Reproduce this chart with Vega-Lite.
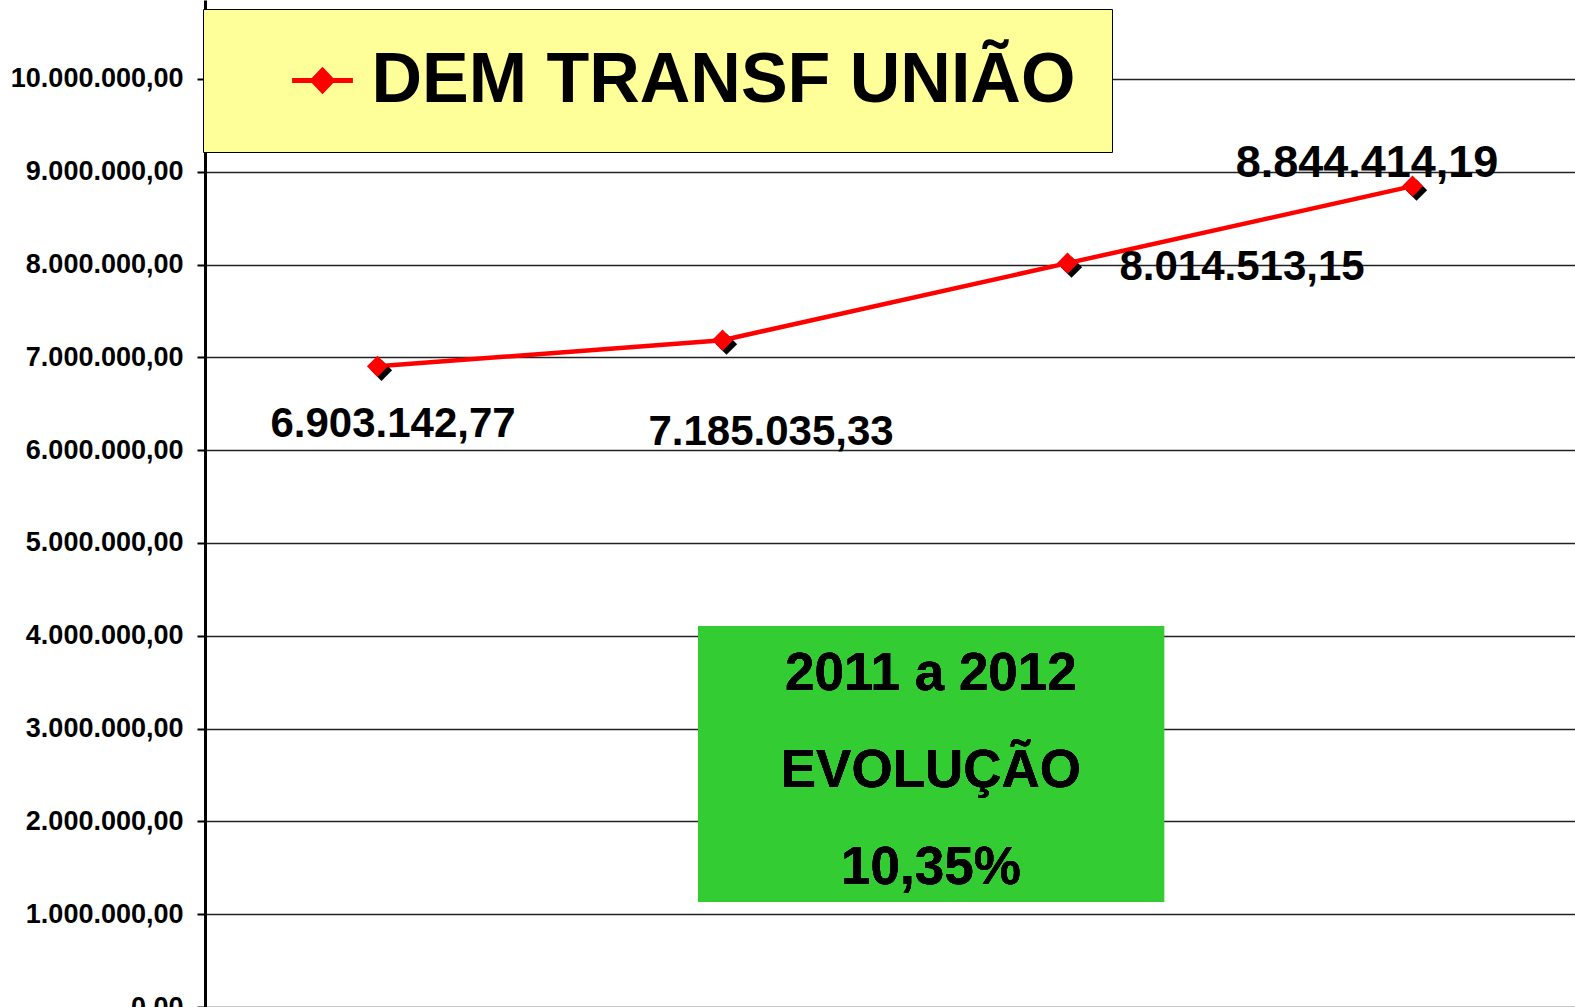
{
  "$schema": "https://vega.github.io/schema/vega-lite/v6.json",
  "autosize": {"type": "none"},
  "padding": {"left": 205, "top": 0, "right": 0, "bottom": 0},
  "width": 1370,
  "height": 1007,
  "background": "white",
  "data": {
    "values": [
      {"ano": 2009, "valor": 6903142.77, "serie": "DEM TRANSF UNIÃO"},
      {"ano": 2010, "valor": 7185035.33, "serie": "DEM TRANSF UNIÃO"},
      {"ano": 2011, "valor": 8014513.15, "serie": "DEM TRANSF UNIÃO"},
      {"ano": 2012, "valor": 8844414.19, "serie": "DEM TRANSF UNIÃO"}
    ]
  },
  "encoding": {
    "x": {"field": "ano", "type": "quantitative", "scale": {"domain": [2008.5, 2012.471], "nice": false, "zero": false}, "axis": null},
    "y": {
      "field": "valor", "type": "quantitative",
      "scale": {"domain": [0, 10850000], "nice": false, "zero": true},
      "axis": {
        "values": [0, 1000000, 2000000, 3000000, 4000000, 5000000, 6000000, 7000000, 8000000, 9000000, 10000000],
        "format": ",.2f",
        "title": null,
        "labelFont": "Liberation Sans",
        "labelFontWeight": "bold",
        "labelFontSize": 27,
        "labelColor": "black",
        "labelPadding": 14,
        "tickSize": 8,
        "tickColor": "black",
        "tickWidth": 2,
        "domainColor": "black",
        "domainWidth": 3,
        "grid": true,
        "gridColor": "#222222",
        "gridWidth": 1.5
      }
    }
  },
  "layer": [
    {
      "mark": {"type": "rect", "color": "#33CC33"},
      "encoding": {
        "x": {"datum": 2009.929},
        "x2": {"datum": 2011.28},
        "y": {"datum": 4105000},
        "y2": {"datum": 1131000}
      }
    },
    {
      "mark": {"type": "text", "font": "Liberation Sans", "fontWeight": "bold", "fontSize": 53, "color": "black", "align": "center", "baseline": "middle", "lineHeight": 97},
      "encoding": {
        "x": {"datum": 2010.604},
        "y": {"datum": 3590000},
        "text": {"value": ["2011 a 2012", "EVOLUÇÃO", "10,35%"]}
      }
    },
    {
      "mark": {"type": "line", "strokeWidth": 4.5},
      "encoding": {
        "color": {
          "field": "serie", "type": "nominal",
          "scale": {"range": ["#FF0000"]},
          "legend": {
            "title": null,
            "orient": "none",
            "legendX": -2,
            "legendY": 9,
            "fillColor": "#FFFF99",
            "strokeColor": "black",
            "padding": 36.5,
            "symbolType": "M-1,-0.08H1V0.08H-1Z M-0.43,0L0,-0.45L0.43,0L0,0.45Z",
            "symbolSize": 3700,
            "symbolFillColor": "#FF0000",
            "symbolStrokeColor": "#FF0000",
            "symbolStrokeWidth": 0,
            "symbolOffset": 48,
            "labelOffset": 14,
            "labelFont": "Liberation Sans",
            "labelFontWeight": "bold",
            "labelFontSize": 70,
            "labelColor": "black",
            "labelLimit": 2000
          }
        }
      }
    },
    {
      "mark": {"type": "point", "shape": "diamond", "filled": true, "size": 450, "color": "black", "opacity": 1, "xOffset": 4, "yOffset": 4}
    },
    {
      "mark": {"type": "point", "shape": "diamond", "filled": true, "size": 450, "color": "#FF0000", "opacity": 1}
    },
    {
      "transform": [{"filter": "datum.ano == 2009"}],
      "mark": {"type": "text", "font": "Liberation Sans", "fontWeight": "bold", "fontSize": 42, "color": "black", "align": "center", "baseline": "middle", "dx": 15.5, "dy": 58},
      "encoding": {"text": {"field": "valor", "type": "quantitative", "format": ",.2f"}}
    },
    {
      "transform": [{"filter": "datum.ano == 2010"}],
      "mark": {"type": "text", "font": "Liberation Sans", "fontWeight": "bold", "fontSize": 42, "color": "black", "align": "center", "baseline": "middle", "dx": 48.5, "dy": 92},
      "encoding": {"text": {"field": "valor", "type": "quantitative", "format": ",.2f"}}
    },
    {
      "transform": [{"filter": "datum.ano == 2011"}],
      "mark": {"type": "text", "font": "Liberation Sans", "fontWeight": "bold", "fontSize": 42, "color": "black", "align": "center", "baseline": "middle", "dx": 174.5, "dy": 4},
      "encoding": {"text": {"field": "valor", "type": "quantitative", "format": ",.2f"}}
    },
    {
      "transform": [{"filter": "datum.ano == 2012"}],
      "mark": {"type": "text", "font": "Liberation Sans", "fontWeight": "bold", "fontSize": 45, "color": "black", "align": "center", "baseline": "middle", "dx": -45.5, "dy": -23},
      "encoding": {"text": {"field": "valor", "type": "quantitative", "format": ",.2f"}}
    }
  ],
  "config": {
    "view": {"stroke": null},
    "font": "Liberation Sans",
    "locale": {"number": {"decimal": ",", "thousands": ".", "grouping": [3], "currency": ["R$", ""]}}
  }
}
